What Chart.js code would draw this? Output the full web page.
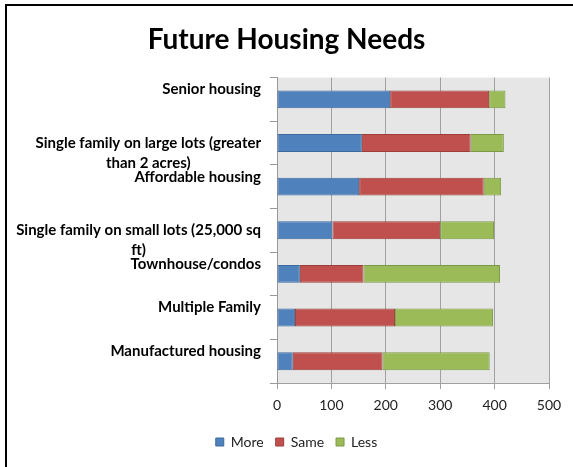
<!DOCTYPE html>
<html>
<head>
<meta charset="utf-8">
<script src="https://cdn.jsdelivr.net/npm/chart.js@4/dist/chart.umd.min.js"></script>
<style>
  html, body { margin: 0; padding: 0; background: #fff; overflow: hidden; }
  canvas { display: block; }
</style>
</head>
<body>
<canvas id="housingChart" width="573" height="467"></canvas>
<script>
// categories top to bottom, already wrapped into lines
const categories = [
  ['Senior housing'],
  ['Single family on large lots (greater', 'than 2 acres)'],
  ['Affordable housing'],
  ['Single family on small lots (25,000 sq', 'ft)'],
  ['Townhouse/condos'],
  ['Multiple Family'],
  ['Manufactured housing']
];
const more = [208, 156, 151, 102, 42, 33, 29];
const same = [182, 200, 229, 198, 117, 184, 165];
const less = [30, 61, 32, 99, 251, 180, 197];
const xTicks = [0, 100, 200, 300, 400, 500];

const FONT = 'Lato, Carlito, Calibri, sans-serif';

// white page, black frame on the left and top, grey plot area
const plotBackground = {
  id: 'plotBackground',
  beforeDraw(chart) {
    const { ctx, chartArea: a, width, height } = chart;
    ctx.save();
    ctx.fillStyle = '#fff';
    ctx.fillRect(0, 0, width, height);
    ctx.fillStyle = '#000';
    ctx.fillRect(5, 4, 2, height - 4);
    ctx.fillRect(5, 4, width - 5, 2);
    ctx.fillStyle = '#e6e6e6';
    ctx.fillRect(a.left, a.top, a.right - a.left, a.bottom - a.top);
    ctx.restore();
  }
};

// category labels: single lines sit above the bar centre, wrapped ones start at it
const categoryLabels = {
  id: 'categoryLabels',
  afterDraw(chart) {
    const { ctx } = chart;
    const y = chart.scales.y;
    const xRight = y.right - 16;
    const lineH = 20;
    ctx.save();
    ctx.font = 'bold 15px ' + FONT;
    ctx.fillStyle = '#000';
    ctx.textBaseline = 'middle';
    categories.forEach((lines, i) => {
      const cy = y.getPixelForValue(i);
      if (lines.length === 1) {
        ctx.textAlign = 'right';
        ctx.fillText(lines[0], xRight, cy - lineH / 2);
      } else {
        const widest = Math.max(...lines.map(l => ctx.measureText(l).width));
        ctx.textAlign = 'center';
        lines.forEach((l, k) => ctx.fillText(l, xRight - widest / 2, cy + k * lineH));
      }
    });
    ctx.restore();
  }
};

// centre title and legend on the whole canvas rather than the padded box
const blockShift = {
  id: 'blockShift',
  afterLayout(chart) {
    chart.titleBlock.left += 12;
    chart.titleBlock.right += 12;
    chart.legend.left += 22;
    chart.legend.right += 22;
  }
};

new Chart(document.getElementById('housingChart'), {
  type: 'bar',
  data: {
    labels: categories.map(c => c.join(' ')),
    datasets: [
      { label: 'More', data: more, backgroundColor: '#4f81bd', borderColor: '#3d6a9e', borderWidth: 1 },
      { label: 'Same', data: same, backgroundColor: '#c0504d', borderColor: '#9d3e3b', borderWidth: 1 },
      { label: 'Less', data: less, backgroundColor: '#9bbb59', borderColor: '#7c9a45', borderWidth: 1 }
    ]
  },
  options: {
    indexAxis: 'y',
    responsive: false,
    animation: false,
    layout: { padding: { left: 0, right: 24, top: 0, bottom: 8 } },
    datasets: { bar: { categoryPercentage: 1, barPercentage: 0.41, borderSkipped: false } },
    scales: {
      x: {
        stacked: true,
        min: 0,
        max: 500,
        afterBuildTicks(scale) { scale.ticks = xTicks.map(v => ({ value: v })); },
        grid: { color: '#a0a0a0', tickLength: 6 },
        border: { color: '#a0a0a0' },
        ticks: { font: { family: FONT, size: 14 }, color: '#222', padding: 8 },
        afterFit(scale) { scale.height = 40; }
      },
      y: {
        stacked: true,
        grid: { offset: true, drawOnChartArea: false, tickLength: 7, color: '#999' },
        border: { color: '#999' },
        ticks: { display: false },
        afterFit(scale) { scale.width = 277; }
      }
    },
    plugins: {
      title: {
        display: true,
        text: 'Future Housing Needs',
        font: { family: FONT, size: 28, weight: 'bold' },
        color: '#000',
        padding: { top: 23, bottom: 21 }
      },
      legend: {
        position: 'bottom',
        labels: {
          font: { family: FONT, size: 14 },
          color: '#222',
          boxWidth: 8,
          boxHeight: 8,
          padding: 12
        }
      },
      tooltip: { enabled: false }
    }
  },
  plugins: [plotBackground, categoryLabels, blockShift]
});
</script>
</body>
</html>
